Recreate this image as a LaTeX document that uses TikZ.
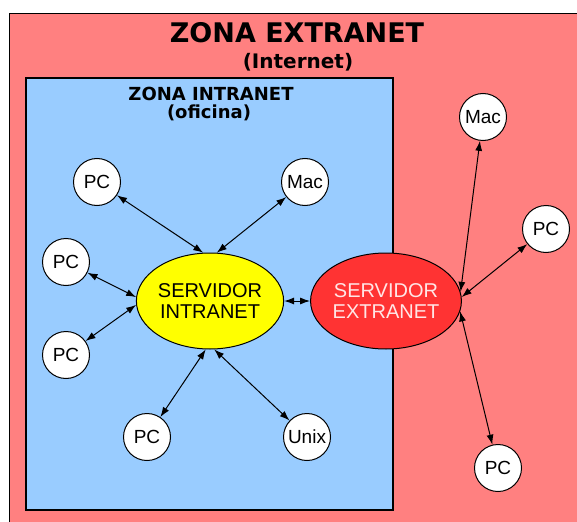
\documentclass[tikz,border=0pt]{standalone}
\usepackage{fontspec}
\setmainfont{Liberation Sans}
\newfontfamily\zonefont{DejaVu Sans}
\usepackage{tikz}
\usetikzlibrary{shapes.geometric,arrows.meta,positioning}

\definecolor{extranetbg}{HTML}{FF8080}
\definecolor{intranetbg}{HTML}{99CCFF}
\definecolor{srvyellow}{HTML}{FFFF00}
\definecolor{srvred}{HTML}{FF3333}
\definecolor{srvtext}{HTML}{FFE6E6}

\begin{document}
\begin{tikzpicture}[x=1pt, y=-1pt, >={Latex[length=10pt,width=7pt]},
  host/.style={draw, circle, fill=white, line width=1pt, minimum size=47pt, inner sep=0pt, font=\fontsize{19}{19}\selectfont},
  server/.style={draw, ellipse, line width=1pt, minimum width=144pt, minimum height=96pt, inner sep=0pt, align=center, font=\fontsize{20}{21}\selectfont},
  zonetitle/.style={font=\zonefont\fontsize{#1}{#1}\selectfont\bfseries, inner sep=0pt},
  link/.style={<->, line width=1pt}]
  \clip (0,0) rectangle (577,521);
  \fill [white] (0,0) rectangle (577,521);

  % zones
  \draw [fill=extranetbg, line width=1.5pt] (9.5,13.5) rectangle (600,540);
  \draw [fill=intranetbg, line width=1.5pt] (26,78) rectangle (393,510);
  \node [zonetitle=27] (extitle) at (297,33) {ZONA EXTRANET};
  \node [zonetitle=20] (exsub) at (298,62) {(Internet)};
  \node [zonetitle=18] (intitle) at (211,94) {ZONA INTRANET};
  \node [zonetitle=18] (insub) at (209,113) {(oficina)};

  % servers
  \node [server, fill=srvyellow] (intra) at (210,301) {SERVIDOR\\INTRANET};
  \node [server, fill=srvred, text=srvtext, minimum width=142pt] (extra) at (386,301) {SERVIDOR\\EXTRANET};

  % hosts
  \node [host] (pcA) at (97,182) {PC};
  \node [host] (macA) at (305,182) {Mac};
  \node [host] (pcB) at (66,262) {PC};
  \node [host] (pcC) at (66,355) {PC};
  \node [host] (pcD) at (147,437) {PC};
  \node [host] (unix) at (307,437) {Unix};
  \node [host] (macB) at (483,117) {Mac};
  \node [host] (pcE) at (546,229) {PC};
  \node [host] (pcF) at (498,468) {PC};

  \draw [link] (pcA) -- (intra.98);
  \draw [link] (macA) -- (intra.82);
  \draw [link] (pcB) -- (intra.177);
  \draw [link] (pcC) -- (intra.183);
  \draw [link] (pcD) -- (intra.265);
  \draw [link] (unix) -- (intra.275);
  \draw [link] (intra) -- (extra);
  \draw [link] (macB) -- (extra.7);
  \draw [link] (pcE) -- (extra.3);
  \draw [link] (pcF) -- (extra.352);
\end{tikzpicture}
\end{document}
